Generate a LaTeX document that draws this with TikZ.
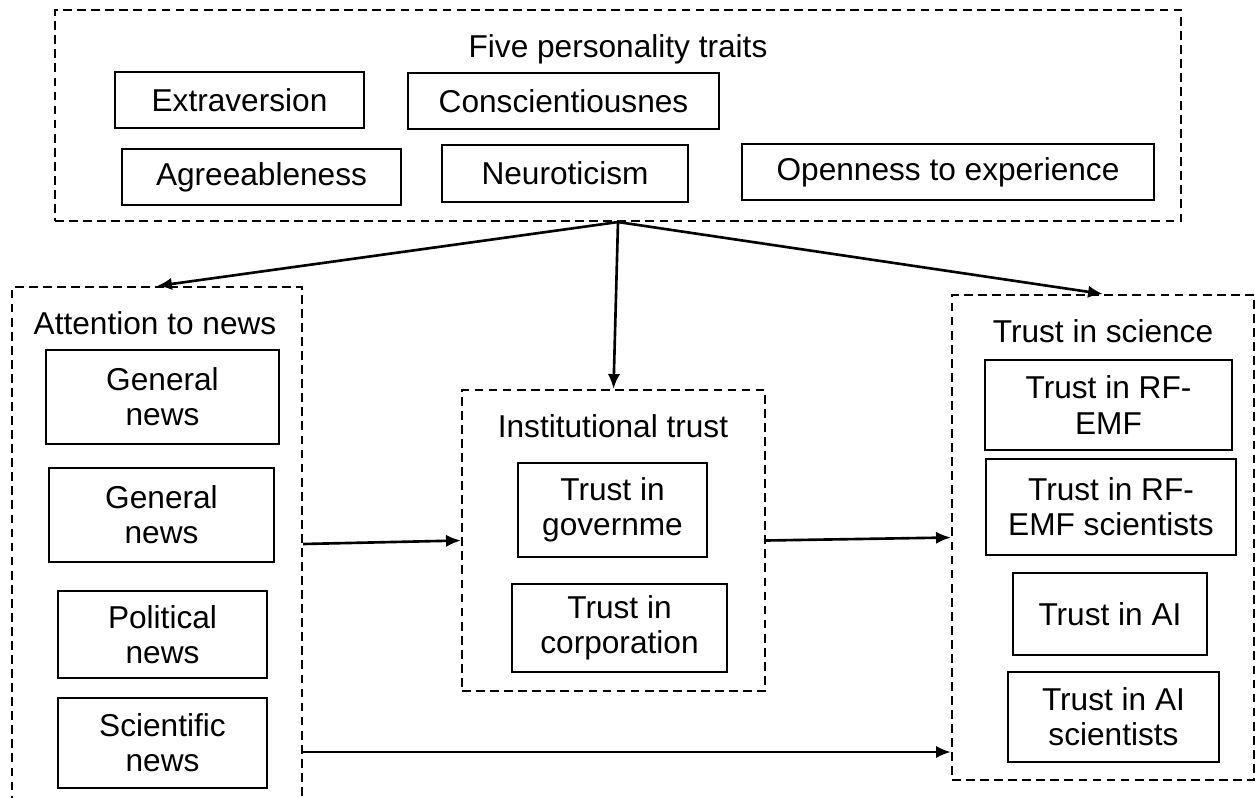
\documentclass[tikz,border=0pt]{standalone}
\usepackage{fontspec}
\setmainfont{Liberation Sans}
\usetikzlibrary{arrows.meta}
\begin{document}
\begin{tikzpicture}[x=0.02cm,y=-0.02cm,->,>={Latex[length=8.5pt,width=7pt]},line width=1.2pt,
    box node/.style={draw,rectangle,align=center,inner sep=0pt,font=\fontsize{18}{20}\selectfont},
    group node/.style={draw,rectangle,dash pattern=on 5pt off 3pt,inner sep=0pt},
    title node/.style={font=\fontsize{18}{20}\selectfont}]
  \clip (0,0) rectangle (1255,798);

  % personality traits
  \node[group node,minimum width=22.52cm,minimum height=4.22cm] (traits) at (618,115.5) {};
  \node[title node] (traitstitle) at (618,49) {Five personality traits};
  \node[box node,minimum width=4.98cm,minimum height=1.12cm] (extra) at (239.5,100) {Extraversion};
  \node[box node,minimum width=6.22cm,minimum height=1.12cm] (consc) at (563.5,101) {Conscientiousnes};
  \node[box node,minimum width=5.58cm,minimum height=1.12cm] (agree) at (261.5,177) {Agreeableness};
  \node[box node,minimum width=4.92cm,minimum height=1.14cm] (neuro) at (565,173.5) {Neuroticism};
  \node[box node,minimum width=8.24cm,minimum height=1.12cm] (open) at (948,172) {Openness to experience};

  % attention to news
  \node[group node,minimum width=5.8cm,minimum height=10.28cm] (news) at (157,544) {};
  \node[title node] (newstitle) at (155,323) {Attention to news};
  \node[box node,minimum width=4.66cm,minimum height=1.88cm] (gen1) at (162.5,397) {General\\news};
  \node[box node,minimum width=4.5cm,minimum height=1.88cm] (gen2) at (161.5,515) {General\\news};
  \node[box node,minimum width=4.18cm,minimum height=1.74cm] (pol) at (162.5,634.5) {Political\\news};
  \node[box node,minimum width=4.18cm,minimum height=1.8cm] (scinews) at (162.5,743) {Scientific\\news};

  % institutional trust
  \node[group node,minimum width=6.06cm,minimum height=6.02cm] (inst) at (613.5,540.5) {};
  \node[title node] (insttitle) at (613,426) {Institutional trust};
  \node[box node,minimum width=3.78cm,minimum height=1.88cm] (gov) at (612.5,510) {Trust in\\governme};
  \node[box node,minimum width=4.3cm,minimum height=1.76cm] (corp) at (619.5,628) {Trust in\\corporation};

  % trust in science
  \node[group node,minimum width=6.04cm,minimum height=9.7cm] (science) at (1103,537.5) {};
  \node[title node] (sciencetitle) at (1103,331) {Trust in science};
  \node[box node,minimum width=4.94cm,minimum height=1.8cm] (rf) at (1108.5,405) {Trust in RF-\\EMF};
  \node[box node,minimum width=5.0cm,minimum height=1.92cm] (rfsci) at (1111,507) {Trust in RF-\\EMF scientists};
  \node[box node,minimum width=3.88cm,minimum height=1.64cm] (ai) at (1110,614) {Trust in AI};
  \node[box node,minimum width=4.22cm,minimum height=1.8cm] (aisci) at (1113.5,717) {Trust in AI\\scientists};

  % paths
  \draw[line width=1.5pt] (traits.south) -- (news.north);
  \draw[line width=1.5pt] (traits.south) -- (inst.north);
  \draw[line width=1.5pt] (traits.south) -- (science.north);
  \draw[line width=1.5pt] (news.east) -- (inst.west);
  \draw[line width=1.5pt] (inst.east) -- (science.west);
  \coordinate (low) at (0,752);
  \draw[line width=1.5pt] (news.east |- low) -- (science.west |- low);
\end{tikzpicture}
\end{document}
